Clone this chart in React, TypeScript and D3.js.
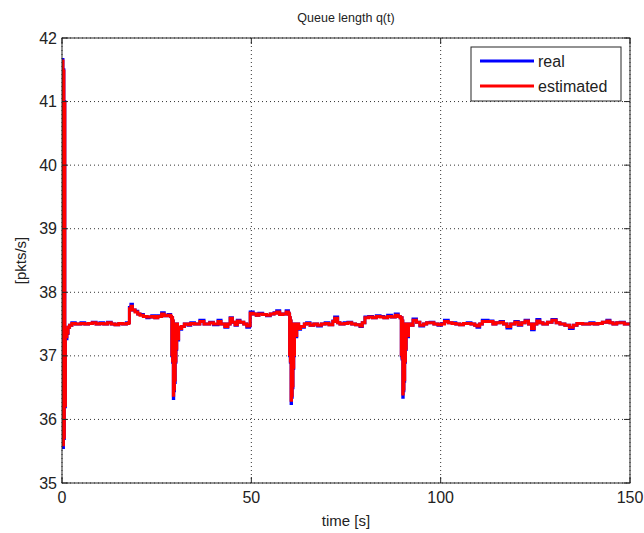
import React, { useEffect } from "react";
import * as d3 from "d3";

const xTicks = [0, 50, 100, 150];
const yTicks = [35, 36, 37, 38, 39, 40, 41, 42];
const seriesNames = ["real", "estimated"];
const seriesColors = ["#0000ff", "#ff0000"];

const realSeries: [number, number][] = [
  [0, 37.5], [0.12, 41.66], [0.25, 35.56], [0.38, 41.5], [0.5, 35.7], [0.62, 41.0], [0.75, 36.2],
  [0.9, 37.4], [1.1, 37.27], [1.3, 37.35], [1.6, 37.45], [2.0, 37.48], [2.6, 37.52], [3.5, 37.5],
  [5, 37.52], [6, 37.5], [7, 37.51], [8, 37.53], [9, 37.5], [10, 37.52], [11, 37.5], [12, 37.53],
  [13, 37.5], [14, 37.49], [15, 37.51], [16, 37.5], [17, 37.52], [17.6, 37.52], [17.8, 37.76],
  [18.2, 37.81], [18.6, 37.72], [19.3, 37.7], [20, 37.66], [20.6, 37.65], [21.5, 37.62], [22.4, 37.6],
  [23, 37.61], [23.7, 37.63], [24.5, 37.6], [25.3, 37.63], [26.3, 37.68], [27, 37.63], [28, 37.65],
  [28.7, 37.62],
  [28.9, 37.6], [29.0, 37.0], [29.1, 37.6], [29.2, 36.9], [29.3, 37.55], [29.4, 36.33], [29.5, 37.5],
  [29.6, 36.45], [29.7, 37.5], [29.8, 36.58], [29.9, 37.5], [30.0, 36.9], [30.1, 37.5], [30.2, 37.1],
  [30.3, 37.5], [30.5, 37.25], [30.8, 37.45], [31.2, 37.42], [31.6, 37.46], [32.3, 37.5], [33.3, 37.48],
  [34, 37.52], [35, 37.5], [36.4, 37.56], [37.5, 37.5], [39, 37.53], [40, 37.49], [41.2, 37.56],
  [42, 37.5], [43, 37.45], [43.8, 37.5], [44.4, 37.6], [45, 37.53], [45.7, 37.48], [46.3, 37.56],
  [47, 37.53], [48, 37.5], [48.8, 37.45], [49.5, 37.47], [49.7, 37.69], [50.5, 37.66], [51.3, 37.64],
  [52, 37.67], [53, 37.65], [54, 37.63], [55, 37.66], [56, 37.68], [56.7, 37.71], [57.5, 37.65],
  [58.3, 37.66], [59.2, 37.71], [59.8, 37.67],
  [60.0, 37.65], [60.1, 37.0], [60.2, 37.6], [60.3, 36.9], [60.4, 37.55], [60.5, 36.25], [60.6, 37.5],
  [60.7, 36.35], [60.8, 37.5], [60.9, 36.5], [61.0, 37.5], [61.1, 36.8], [61.2, 37.5], [61.3, 37.0],
  [61.4, 37.5], [61.6, 37.3], [62, 37.5], [62.5, 37.42], [63, 37.45], [64, 37.5], [64.6, 37.52],
  [65.5, 37.48], [66.5, 37.5], [67.5, 37.47], [68.5, 37.5], [69.5, 37.52], [70.5, 37.49], [71.5, 37.55],
  [72, 37.61], [72.8, 37.52], [73.4, 37.5], [74.5, 37.52], [75.5, 37.53], [76.5, 37.5], [77.5, 37.49],
  [78.7, 37.46], [79.3, 37.52], [80, 37.61], [81, 37.62], [82, 37.6], [83, 37.63], [84, 37.62],
  [85, 37.6], [86, 37.64], [87, 37.61], [88, 37.66], [88.8, 37.62], [89.3, 37.6],
  [89.5, 37.6], [89.6, 37.0], [89.7, 37.6], [89.8, 36.95], [89.9, 37.55], [90.0, 36.35], [90.1, 37.5],
  [90.2, 36.45], [90.3, 37.5], [90.4, 36.6], [90.5, 37.5], [90.6, 36.9], [90.7, 37.5], [90.8, 37.1],
  [90.9, 37.5], [91.1, 37.3], [91.5, 37.5], [92, 37.48], [92.7, 37.58], [93.6, 37.53], [94.5, 37.47],
  [95.5, 37.5], [96.3, 37.52], [97.2, 37.53], [98.2, 37.5], [99.3, 37.48], [100.2, 37.51], [101, 37.56],
  [102, 37.52], [103, 37.52], [104, 37.5], [105, 37.49], [106, 37.51], [107, 37.52], [108, 37.5],
  [109, 37.48], [109.6, 37.45], [110.3, 37.5], [111, 37.56], [112.5, 37.55], [113.8, 37.5],
  [114.6, 37.52], [115.7, 37.54], [116.6, 37.5], [117.5, 37.44], [118.5, 37.5], [119.6, 37.54],
  [120.5, 37.48], [121.4, 37.52], [122.3, 37.56], [123.2, 37.5], [124, 37.41], [124.7, 37.5],
  [125.4, 37.57], [126.2, 37.52], [127, 37.5], [128.2, 37.53], [129.4, 37.57], [130.5, 37.52],
  [131.5, 37.5], [132.8, 37.48], [134, 37.43], [135, 37.48], [136, 37.51], [137.5, 37.5], [139.4, 37.52],
  [140.5, 37.5], [141.5, 37.51], [142.7, 37.53], [143.9, 37.56], [144.7, 37.52], [145.5, 37.5],
  [146.5, 37.52], [147.4, 37.53], [148.5, 37.5], [149.6, 37.5], [150, 37.49],
];

const estSeries: [number, number][] = [
  [0, 37.5], [0.12, 41.64], [0.25, 35.6], [0.38, 41.48], [0.5, 35.72], [0.62, 40.98], [0.75, 36.22],
  [0.9, 37.41], [1.1, 37.3], [1.3, 37.36], [1.6, 37.45], [2.0, 37.48], [2.6, 37.51], [3.5, 37.5],
  [5, 37.51], [6, 37.5], [7, 37.51], [8, 37.52], [9, 37.5], [10, 37.51], [11, 37.5], [12, 37.52],
  [13, 37.5], [14, 37.49], [15, 37.51], [16, 37.5], [17, 37.51], [17.6, 37.52], [17.8, 37.74],
  [18.2, 37.78], [18.6, 37.72], [19.3, 37.69], [20, 37.66], [20.6, 37.64], [21.5, 37.62], [22.4, 37.61],
  [23, 37.61], [23.7, 37.62], [24.5, 37.6], [25.3, 37.62], [26.3, 37.66], [27, 37.63], [28, 37.64],
  [28.7, 37.62],
  [28.9, 37.6], [29.0, 37.02], [29.1, 37.6], [29.2, 36.92], [29.3, 37.55], [29.4, 36.38], [29.5, 37.5],
  [29.6, 36.48], [29.7, 37.5], [29.8, 36.62], [29.9, 37.5], [30.0, 36.92], [30.1, 37.5], [30.2, 37.12],
  [30.3, 37.5], [30.5, 37.27], [30.8, 37.45], [31.2, 37.43], [31.6, 37.46], [32.3, 37.5], [33.3, 37.49],
  [34, 37.51], [35, 37.5], [36.4, 37.54], [37.5, 37.5], [39, 37.52], [40, 37.5], [41.2, 37.54],
  [42, 37.5], [43, 37.46], [43.8, 37.5], [44.4, 37.59], [45, 37.53], [45.7, 37.49], [46.3, 37.55],
  [47, 37.53], [48, 37.5], [48.8, 37.47], [49.5, 37.48], [49.7, 37.67], [50.5, 37.66], [51.3, 37.64],
  [52, 37.66], [53, 37.65], [54, 37.64], [55, 37.66], [56, 37.67], [56.7, 37.69], [57.5, 37.65],
  [58.3, 37.66], [59.2, 37.69], [59.8, 37.67],
  [60.0, 37.65], [60.1, 37.02], [60.2, 37.6], [60.3, 36.92], [60.4, 37.55], [60.5, 36.3], [60.6, 37.5],
  [60.7, 36.38], [60.8, 37.5], [60.9, 36.53], [61.0, 37.5], [61.1, 36.82], [61.2, 37.5], [61.3, 37.02],
  [61.4, 37.5], [61.6, 37.32], [62, 37.5], [62.5, 37.43], [63, 37.46], [64, 37.5], [64.6, 37.51],
  [65.5, 37.48], [66.5, 37.5], [67.5, 37.48], [68.5, 37.5], [69.5, 37.51], [70.5, 37.49], [71.5, 37.54],
  [72, 37.59], [72.8, 37.52], [73.4, 37.5], [74.5, 37.51], [75.5, 37.52], [76.5, 37.5], [77.5, 37.49],
  [78.7, 37.47], [79.3, 37.52], [80, 37.6], [81, 37.61], [82, 37.6], [83, 37.62], [84, 37.61],
  [85, 37.6], [86, 37.62], [87, 37.61], [88, 37.64], [88.8, 37.62], [89.3, 37.6],
  [89.5, 37.6], [89.6, 37.02], [89.7, 37.6], [89.8, 36.97], [89.9, 37.55], [90.0, 36.4], [90.1, 37.5],
  [90.2, 36.48], [90.3, 37.5], [90.4, 36.63], [90.5, 37.5], [90.6, 36.92], [90.7, 37.5], [90.8, 37.12],
  [90.9, 37.5], [91.1, 37.32], [91.5, 37.5], [92, 37.48], [92.7, 37.56], [93.6, 37.53], [94.5, 37.48],
  [95.5, 37.5], [96.3, 37.52], [97.2, 37.52], [98.2, 37.5], [99.3, 37.49], [100.2, 37.5], [101, 37.54],
  [102, 37.52], [103, 37.51], [104, 37.5], [105, 37.49], [106, 37.51], [107, 37.51], [108, 37.5],
  [109, 37.48], [109.6, 37.47], [110.3, 37.5], [111, 37.54], [112.5, 37.54], [113.8, 37.5],
  [114.6, 37.52], [115.7, 37.53], [116.6, 37.5], [117.5, 37.46], [118.5, 37.5], [119.6, 37.53],
  [120.5, 37.49], [121.4, 37.52], [122.3, 37.55], [123.2, 37.5], [124, 37.43], [124.7, 37.5],
  [125.4, 37.55], [126.2, 37.52], [127, 37.5], [128.2, 37.53], [129.4, 37.56], [130.5, 37.52],
  [131.5, 37.5], [132.8, 37.48], [134, 37.45], [135, 37.48], [136, 37.51], [137.5, 37.5], [139.4, 37.51],
  [140.5, 37.5], [141.5, 37.51], [142.7, 37.53], [143.9, 37.55], [144.7, 37.52], [145.5, 37.5],
  [146.5, 37.52], [147.4, 37.52], [148.5, 37.5], [149.6, 37.5], [150, 37.49],
];

const W = 644;
const H = 533;
const M = { left: 62, right: 14, top: 38, bottom: 50 };
const FONT = "'Liberation Sans', Arial, Helvetica, sans-serif";

export default function App() {
  useEffect(() => {
    document.body.style.margin = "0";
  }, []);

  const x = d3.scaleLinear().domain([0, 150]).range([M.left, W - M.right]);
  const y = d3.scaleLinear().domain([35, 42]).range([H - M.bottom, M.top]);
  const line = d3
    .line<[number, number]>()
    .x((d) => x(d[0]))
    .y((d) => y(d[1]))
    .curve(d3.curveStepAfter);

  const x0 = x.range()[0];
  const x1 = x.range()[1];
  const y0 = y.range()[0];
  const y1 = y.range()[1];
  const tl = 6;
  const frame = "#262626";

  const lgX = 471;
  const lgY = 47;
  const lgW = 150;
  const lgH = 54;

  return (
    <svg width={W} height={H} style={{ display: "block", background: "#fff" }}>
      <rect x={0} y={0} width={W} height={H} fill="#fff" />
      <defs>
        <clipPath id="plotclip">
          <rect x={x0} y={y1} width={x1 - x0} height={y0 - y1} />
        </clipPath>
      </defs>
      {xTicks.map((t) => (
        <line key={"gx" + t} x1={x(t)} x2={x(t)} y1={y0} y2={y1} stroke="#333" strokeWidth={1} strokeDasharray="1,3" />
      ))}
      {yTicks.map((t) => (
        <line key={"gy" + t} x1={x0} x2={x1} y1={y(t)} y2={y(t)} stroke="#333" strokeWidth={1} strokeDasharray="1,3" />
      ))}
      <g clipPath="url(#plotclip)">
        <path d={line(realSeries) || ""} fill="none" stroke={seriesColors[0]} strokeWidth={3} strokeLinejoin="miter" />
        <path d={line(estSeries) || ""} fill="none" stroke={seriesColors[1]} strokeWidth={3} strokeLinejoin="miter" />
      </g>
      <rect x={x0} y={y1} width={x1 - x0} height={y0 - y1} fill="none" stroke={frame} strokeWidth={1} />
      {xTicks.map((t) => (
        <g key={"tx" + t}>
          <line x1={x(t)} x2={x(t)} y1={y0} y2={y0 - tl} stroke={frame} />
          <line x1={x(t)} x2={x(t)} y1={y1} y2={y1 + tl} stroke={frame} />
          <text x={x(t)} y={y0 + 20} textAnchor="middle" fontFamily={FONT} fontSize={16} fill="#222">
            {t}
          </text>
        </g>
      ))}
      {yTicks.map((t) => (
        <g key={"ty" + t}>
          <line x1={x0} x2={x0 + tl} y1={y(t)} y2={y(t)} stroke={frame} />
          <line x1={x1} x2={x1 - tl} y1={y(t)} y2={y(t)} stroke={frame} />
          <text x={x0 - 5} y={y(t)} dy="0.35em" textAnchor="end" fontFamily={FONT} fontSize={16} fill="#222">
            {t}
          </text>
        </g>
      ))}
      <text x={(x0 + x1) / 2} y={22} textAnchor="middle" fontFamily={FONT} fontSize={12.5} fill="#222">
        Queue length q(t)
      </text>
      <text x={(x0 + x1) / 2} y={526} textAnchor="middle" fontFamily={FONT} fontSize={15} fill="#222">
        time [s]
      </text>
      <text
        transform={`translate(26,${(y0 + y1) / 2}) rotate(-90)`}
        textAnchor="middle"
        fontFamily={FONT}
        fontSize={15}
        fill="#222"
      >
        [pkts/s]
      </text>
      <rect x={lgX} y={lgY} width={lgW} height={lgH} fill="#fff" stroke={frame} strokeWidth={1} />
      {seriesNames.map((n, i) => (
        <g key={n}>
          <line x1={lgX + 9} x2={lgX + 63} y1={lgY + 14 + i * 25} y2={lgY + 14 + i * 25} stroke={seriesColors[i]} strokeWidth={3} />
          <text x={lgX + 67} y={lgY + 14 + i * 25} dy="0.35em" fontFamily={FONT} fontSize={16} fill="#222">
            {n}
          </text>
        </g>
      ))}
    </svg>
  );
}
